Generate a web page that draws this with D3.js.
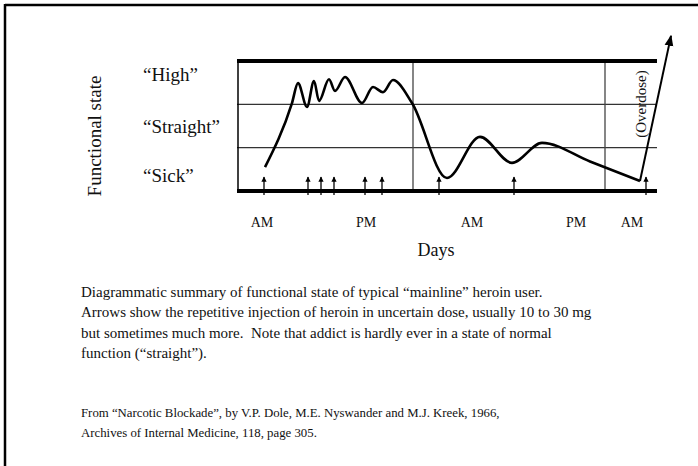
<!DOCTYPE html>
<html><head><meta charset="utf-8">
<script src="https://cdn.jsdelivr.net/npm/d3@7"></script>
<style>body{margin:0;background:#fff}svg{display:block}text{font-family:"Liberation Serif","Times New Roman",serif;fill:#111;white-space:pre}</style>
</head><body><svg id="c" width="698" height="466"></svg>
<script>
// Time axis in hours-like units (0..42), state axis 0 (bottom) .. 3 (top)
const stateLabels = ["\u201cHigh\u201d", "\u201cStraight\u201d", "\u201cSick\u201d"];
const stateLabelPos = [2.7, 1.5, 0.35];
const gridLevels = [1, 2];
const dayDividers = [17.6, 36.8];
const timeLabels = ["AM", "PM", "AM", "PM", "AM"];
const timeLabelPos = [2.5, 12.9, 23.5, 33.9, 39.5];
const curveT = [2.8, 5.5, 6.1, 7.0, 7.7, 8.2, 9.2, 9.8, 10.8, 12.5, 13.6, 14.6, 15.6, 17.5, 21.0, 24.3, 27.5, 30.5, 35.3, 40.3];
const curveV = [0.55, 2.03, 2.49, 1.94, 2.54, 2.08, 2.58, 2.31, 2.63, 2.03, 2.40, 2.28, 2.56, 2.03, 0.30, 1.25, 0.65, 1.11, 0.68, 0.23];
const overdoseT = [40.3, 43.4];
const overdoseV = [0.23, 3.58];
const injections = [2.7, 7.1, 8.4, 9.7, 12.8, 14.5, 20.2, 27.7, 40.9];
const caption = [
  "Diagrammatic summary of functional state of typical \u201cmainline\u201d heroin user.",
  "Arrows show the repetitive injection of heroin in uncertain dose, usually 10 to 30 mg",
  "but sometimes much more.  Note that addict is hardly ever in a state of normal",
  "function (\u201cstraight\u201d)."
];
const citation = [
  "From \u201cNarcotic Blockade\u201d, by V.P. Dole, M.E. Nyswander and M.J. Kreek, 1966,",
  "Archives of Internal Medicine, 118, page 305."
];

const svg = d3.select("#c");
const x = d3.scaleLinear().domain([0, 42]).range([237, 657]);
const y = d3.scaleLinear().domain([0, 3]).range([191, 61]);

// page border (top & left)
svg.append("line").attr("x1",5).attr("x2",698).attr("y1",5).attr("y2",5).attr("stroke","#000").attr("stroke-width",2.5);
svg.append("line").attr("x1",5).attr("x2",5).attr("y1",4).attr("y2",466).attr("stroke","#000").attr("stroke-width",2.5);

const defs = svg.append("defs");
defs.append("marker").attr("id","ah").attr("viewBox","0 0 10 10").attr("refX",9).attr("refY",5)
  .attr("markerWidth",4).attr("markerHeight",4).attr("orient","auto")
  .append("path").attr("d","M0,0L10,5L0,10z").attr("fill","#000");
defs.append("marker").attr("id","ah2").attr("viewBox","0 0 10 10").attr("refX",9).attr("refY",5)
  .attr("markerWidth",5.5).attr("markerHeight",5.5).attr("orient","auto")
  .append("path").attr("d","M0,1L10,5L0,9z").attr("fill","#000");

// grid
svg.selectAll(".g").data(gridLevels).join("line").attr("x1",x(0)).attr("x2",x(42)).attr("y1",d=>y(d)).attr("y2",d=>y(d)).attr("stroke","#333").attr("stroke-width",1.2);
svg.selectAll(".v").data(dayDividers).join("line").attr("x1",d=>x(d)).attr("x2",d=>x(d)).attr("y1",y(3)).attr("y2",y(0)).attr("stroke","#444").attr("stroke-width",1.3);
svg.append("line").attr("x1",x(0)+1).attr("x2",x(0)+1).attr("y1",y(3)).attr("y2",y(0)).attr("stroke","#000").attr("stroke-width",1.5);
svg.append("line").attr("x1",x(0)).attr("x2",x(42)).attr("y1",y(3)).attr("y2",y(3)).attr("stroke","#000").attr("stroke-width",4);
svg.append("line").attr("x1",x(0)).attr("x2",x(42)).attr("y1",y(0)).attr("y2",y(0)).attr("stroke","#000").attr("stroke-width",4);

// state labels
svg.selectAll(".sl").data(stateLabels).join("text").attr("x",143).attr("y",(d,i)=>y(stateLabelPos[i])).attr("dy","0.35em")
  .attr("font-size",19).text(d=>d);
svg.append("text").attr("transform","translate(101,136) rotate(-90)").attr("text-anchor","middle").attr("font-size",19).text("Functional state");

// time labels
svg.selectAll(".tl").data(timeLabels).join("text").attr("x",(d,i)=>x(timeLabelPos[i])).attr("y",227).attr("text-anchor","middle").attr("font-size",14).text(d=>d);
svg.append("text").attr("x",436).attr("y",256).attr("text-anchor","middle").attr("font-size",18).text("Days");

// curve
const pts = curveT.map((t,i)=>[t, curveV[i]]);
svg.append("path").datum(pts).attr("d", d3.line().x(d=>x(d[0])).y(d=>y(d[1])).curve(d3.curveMonotoneX))
  .attr("fill","none").attr("stroke","#000").attr("stroke-width",2.6).attr("stroke-linejoin","round");
svg.append("line").attr("x1",x(overdoseT[0])).attr("y1",y(overdoseV[0])).attr("x2",x(overdoseT[1])).attr("y2",y(overdoseV[1]))
  .attr("stroke","#000").attr("stroke-width",2).attr("marker-end","url(#ah2)");
svg.append("text").attr("transform",`translate(646,104) rotate(-90)`).attr("text-anchor","middle").attr("font-size",15).text("(Overdose)");

// injection arrows
svg.selectAll(".inj").data(injections).join("line").attr("x1",d=>x(d)).attr("x2",d=>x(d)).attr("y1",195).attr("y2",177)
  .attr("stroke","#000").attr("stroke-width",1.3).attr("marker-end","url(#ah)");

// caption
svg.selectAll(".cap").data(caption).join("text").attr("x",81).attr("y",(d,i)=>297+i*20.3).attr("font-size",15).text(d=>d);
svg.selectAll(".cit").data(citation).join("text").attr("x",81).attr("y",(d,i)=>417+i*20).attr("font-size",12.8).text(d=>d);
</script></body></html>
